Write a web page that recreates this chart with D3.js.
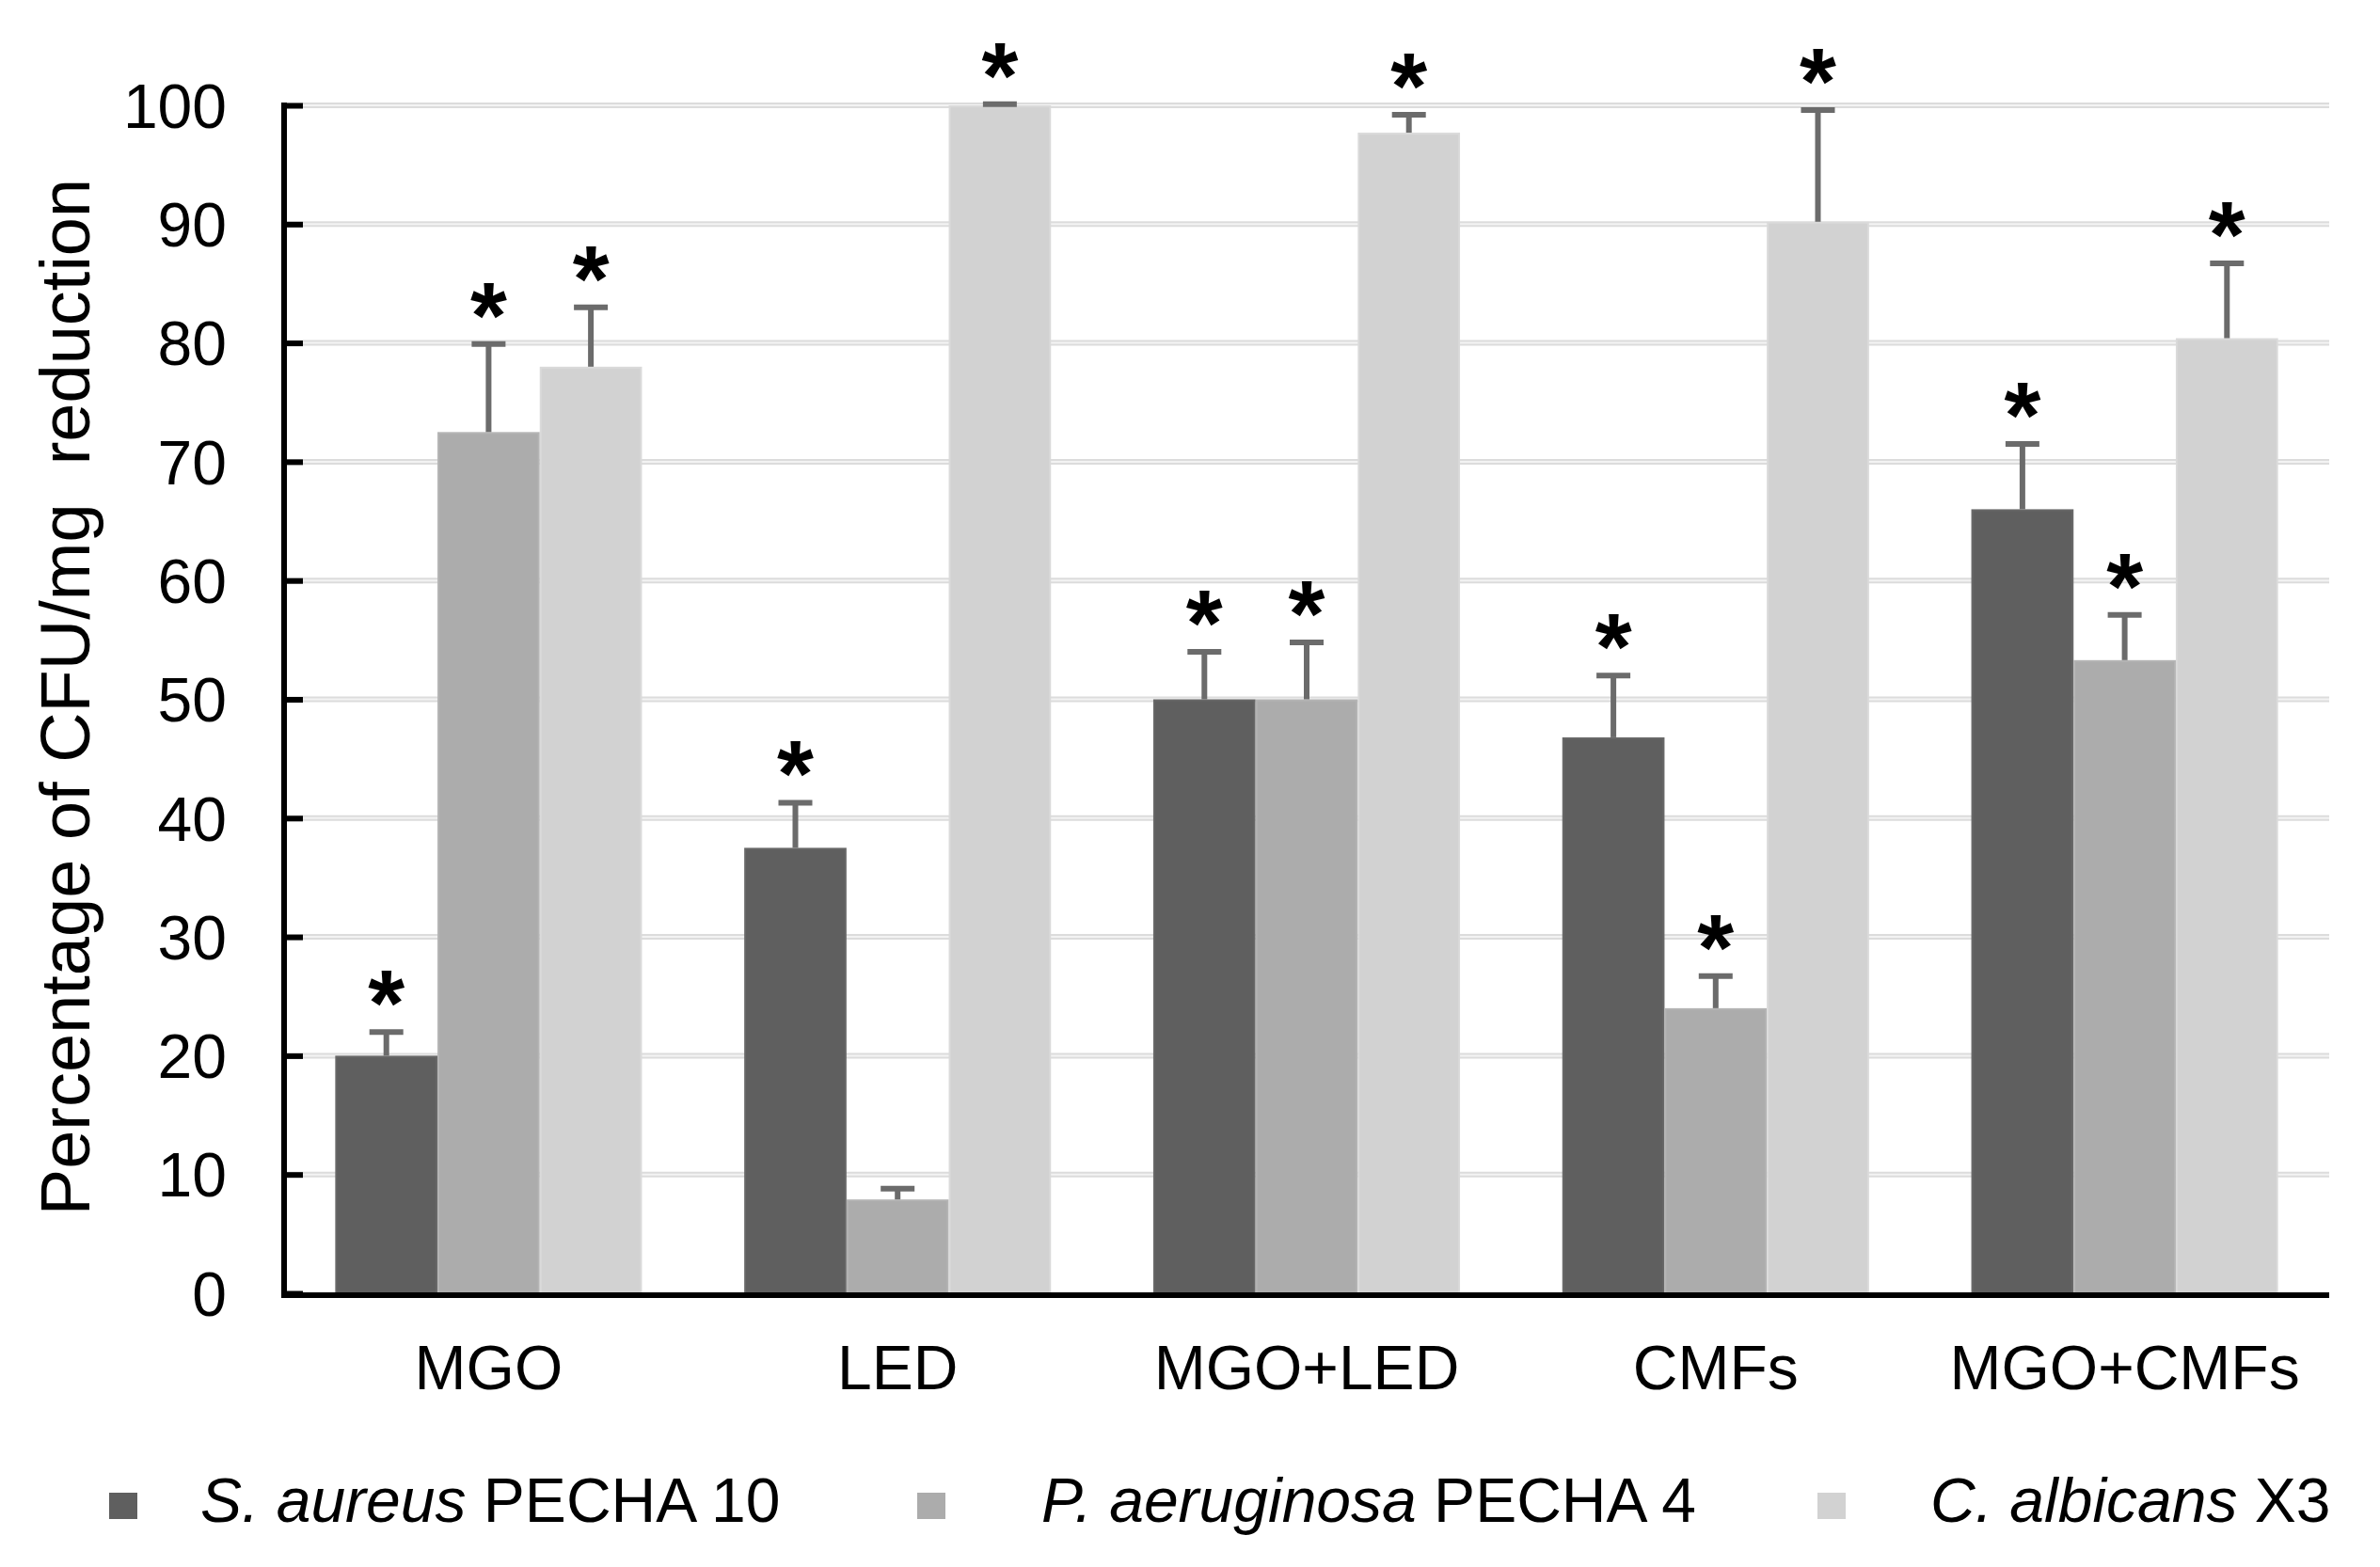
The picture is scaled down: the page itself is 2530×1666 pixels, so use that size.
<!DOCTYPE html>
<html>
<head>
<meta charset="utf-8">
<script src="https://cdn.jsdelivr.net/npm/d3@7"></script>
<style>
  body { margin: 0; background: #fff; }
  text { font-family: "Liberation Sans", Arial, sans-serif; fill: #000; }
</style>
</head>
<body>
<script>
// data
const categories = ["MGO", "LED", "MGO+LED", "CMFs", "MGO+CMFs"];
const seriesNames = ["S. aureus PECHA 10", "P. aeruginosa PECHA 4", "C. albicans X3"];
const saureus = [20, 37.5, 50, 46.8, 66];
const paeruginosa = [72.5, 7.9, 50, 24, 53.3];
const calbicans = [78, 100, 97.7, 90.2, 80.4];
const saureusErr = [2, 3.8, 4, 5.2, 5.5];
const paeruginosaErr = [7.4, 0.9, 4.8, 2.7, 3.8];
const calbicansErr = [5, 0.1, 1.5, 9.4, 6.3];
const saureusSig = [true, true, true, true, true];
const paeruginosaSig = [true, false, true, true, true];
const calbicansSig = [true, true, true, true, true];
const yTicks = [0, 10, 20, 30, 40, 50, 60, 70, 80, 90, 100];

const legendItalic = ["S. aureus", "P. aeruginosa", "C. albicans"];
const legendPlain = [" PECHA 10", " PECHA 4", " X3"];

const W = 2530, H = 1666;
const margin = {top: 112, right: 54, bottom: 291, left: 302};
const fills = ["#5f5f5f", "#acacac", "#d2d2d2"];
const edges = ["#686868", "#b4b4b4", "#dadada"];

const values = [saureus, paeruginosa, calbicans];
const errs = [saureusErr, paeruginosaErr, calbicansErr];
const sigs = [saureusSig, paeruginosaSig, calbicansSig];

const rows = [];
categories.forEach((c, i) => {
  seriesNames.forEach((s, j) => {
    rows.push({cat: c, s: j, v: values[j][i], e: errs[j][i], sig: sigs[j][i]});
  });
});

const svg = d3.select("body").append("svg")
  .attr("width", W).attr("height", H);

const x0 = d3.scaleBand()
  .domain(categories)
  .range([margin.left, W - margin.right])
  .paddingInner(0.25)
  .paddingOuter(0.125);

const x1 = d3.scaleBand()
  .domain([0, 1, 2])
  .range([0, x0.bandwidth()]);

const y = d3.scaleLinear()
  .domain([0, 100])
  .range([H - margin.bottom, margin.top]);

// grid
const grid = svg.append("g");
grid.selectAll("line.g1")
  .data(yTicks.slice(1))
  .enter().append("line")
  .attr("x1", margin.left).attr("x2", W - margin.right)
  .attr("y1", d => y(d)).attr("y2", d => y(d))
  .attr("stroke", "#dcdcdc").attr("stroke-width", 6);
grid.selectAll("line.g2")
  .data(yTicks.slice(1))
  .enter().append("line")
  .attr("x1", margin.left).attr("x2", W - margin.right)
  .attr("y1", d => y(d)).attr("y2", d => y(d))
  .attr("stroke", "#f3f3f3").attr("stroke-width", 2);

// bars
svg.append("g").selectAll("rect")
  .data(rows)
  .enter().append("rect")
  .attr("x", d => x0(d.cat) + x1(d.s) + 1)
  .attr("y", d => y(d.v) + 1)
  .attr("width", x1.bandwidth() - 2)
  .attr("height", d => y(0) - y(d.v) - 1)
  .attr("fill", d => fills[d.s])
  .attr("stroke", d => edges[d.s])
  .attr("stroke-width", 2);

// error bars (upper half only)
const eb = svg.append("g").attr("stroke", "#6b6b6b");
eb.selectAll("line.v")
  .data(rows)
  .enter().append("line")
  .attr("x1", d => x0(d.cat) + x1(d.s) + x1.bandwidth() / 2)
  .attr("x2", d => x0(d.cat) + x1(d.s) + x1.bandwidth() / 2)
  .attr("y1", d => y(d.v))
  .attr("y2", d => y(d.v + d.e))
  .attr("stroke-width", 6);
eb.selectAll("line.cap")
  .data(rows)
  .enter().append("line")
  .attr("x1", d => x0(d.cat) + x1(d.s) + x1.bandwidth() / 2 - 18)
  .attr("x2", d => x0(d.cat) + x1(d.s) + x1.bandwidth() / 2 + 18)
  .attr("y1", d => y(d.v + d.e))
  .attr("y2", d => y(d.v + d.e))
  .attr("stroke-width", 6);

// significance stars
svg.append("g").selectAll("text")
  .data(rows.filter(d => d.sig))
  .enter().append("text")
  .attr("x", d => x0(d.cat) + x1(d.s) + x1.bandwidth() / 2)
  .attr("y", d => y(d.v + d.e) + 4)
  .attr("text-anchor", "middle")
  .style("font-size", "100px")
  .style("font-weight", "bold")
  .text("*");

// axes
const yAxis = svg.append("g")
  .attr("transform", `translate(${margin.left},0)`)
  .call(d3.axisRight(y).tickValues(yTicks).tickSize(20).tickFormat(""));
yAxis.select(".domain").remove();
yAxis.selectAll(".tick line").attr("stroke", "#000").attr("stroke-width", 6);

svg.append("line")
  .attr("x1", margin.left).attr("x2", margin.left)
  .attr("y1", y(100) - 3).attr("y2", y(0) + 5)
  .attr("stroke", "#000").attr("stroke-width", 6);
svg.append("line")
  .attr("x1", margin.left - 3).attr("x2", W - margin.right)
  .attr("y1", y(0) + 2).attr("y2", y(0) + 2)
  .attr("stroke", "#000").attr("stroke-width", 6);

svg.append("g").selectAll("text")
  .data(yTicks)
  .enter().append("text")
  .attr("x", 241)
  .attr("y", d => y(d))
  .attr("dy", "0.36em")
  .attr("text-anchor", "end")
  .style("font-size", "66px")
  .text(d => d);

svg.append("g").selectAll("text")
  .data(categories)
  .enter().append("text")
  .attr("x", d => x0(d) + x0.bandwidth() / 2)
  .attr("y", 1477)
  .attr("text-anchor", "middle")
  .style("font-size", "66px")
  .text(d => d);

svg.append("text")
  .attr("transform", "translate(95,741) rotate(-90)")
  .attr("text-anchor", "middle")
  .style("font-size", "74px")
  .style("white-space", "pre")
  .text("Percentage of CFU/mg  reduction");

// legend
const legendX = [116, 975, 1932];
const legendTextX = [213, 1107, 2052];
const lg = svg.append("g");
lg.selectAll("rect")
  .data(seriesNames)
  .enter().append("rect")
  .attr("x", (d, i) => legendX[i])
  .attr("y", 1587)
  .attr("width", 30).attr("height", 28)
  .attr("fill", (d, i) => fills[i]);
const lt = lg.selectAll("text")
  .data(seriesNames)
  .enter().append("text")
  .attr("x", (d, i) => legendTextX[i])
  .attr("y", 1618)
  .style("font-size", "66px")
  .style("white-space", "pre");
lt.append("tspan").style("font-style", "italic").text((d, i) => legendItalic[i]);
lt.append("tspan").text((d, i) => legendPlain[i]);
</script>
</body>
</html>
